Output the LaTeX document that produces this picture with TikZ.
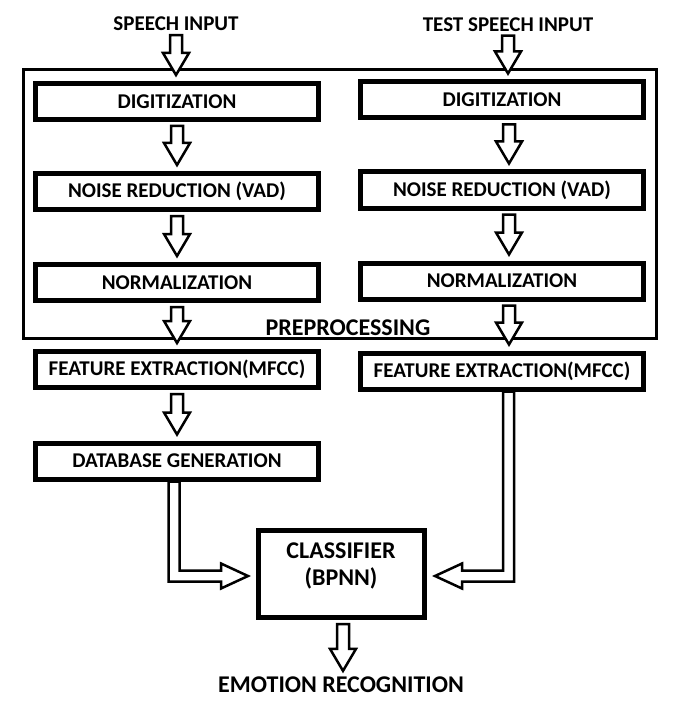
\documentclass[tikz,border=0pt]{standalone}
\usepackage{fontspec}
\setmainfont{Carlito}
\usetikzlibrary{calc}

% hollow block arrow going down from #1 to #2
\newcommand{\hollowdown}[2]{%
  \draw[hollow] let \p1=(#1), \p2=(#2) in
    (\x1-6pt,\y1-4pt) -- (\x1+6pt,\y1-4pt) -- (\x1+6pt,\y2+28pt) -- (\x1+13pt,\y2+28pt)
    -- (\x1,\y2+6pt) -- (\x1-13pt,\y2+28pt) -- (\x1-6pt,\y2+28pt) -- cycle;}

\begin{document}
\begin{tikzpicture}[x=1pt,y=-1pt,
    box/.style={draw, line width=5pt, minimum width=283pt, minimum height=36pt,
      inner sep=0pt, font=\bfseries\fontsize{21}{25}\selectfont},
    lbl/.style={inner sep=0pt, font=\bfseries\fontsize{21}{25}\selectfont},
    hollow/.style={draw, fill=white, line width=2.5pt, line join=miter}]
    \useasboundingbox (0,0) rectangle (682,722);
    % preprocessing frame
    \draw[line width=3pt] (23.5,69.5) rectangle (656.5,338.5);
    \node[lbl, font=\bfseries\fontsize{24}{28}\selectfont] (pre) at (348,328) {PREPROCESSING};
    % training side
    \node[lbl] (in1) at (176,24) {SPEECH INPUT};
    \node[box] (d1) at (177,101.5) {DIGITIZATION};
    \node[box] (n1) at (177,191.5) {NOISE REDUCTION (VAD)};
    \node[box] (m1) at (177,282.5) {NORMALIZATION};
    \node[box] (f1) at (177,369.5) {FEATURE EXTRACTION(MFCC)};
    \node[box] (db) at (177,461) {DATABASE GENERATION};
    % test side
    \node[lbl] (in2) at (508,24.5) {TEST SPEECH INPUT};
    \node[box] (d2) at (502,100) {DIGITIZATION};
    \node[box] (n2) at (502,190) {NOISE REDUCTION (VAD)};
    \node[box] (m2) at (502,281) {NORMALIZATION};
    \node[box] (f2) at (502,371) {FEATURE EXTRACTION(MFCC)};
    % classifier and result
    \node[box, minimum width=166pt, minimum height=87pt] (cls) at (341.5,574) {};
    \node[lbl, align=center, font=\bfseries\fontsize{24}{27}\selectfont] (clstxt) at (341,566)
        {CLASSIFIER\\(BPNN)};
    \node[lbl, font=\bfseries\fontsize{24}{28}\selectfont] (out) at (341,685) {EMOTION RECOGNITION};
    % arrows, left column
    \hollowdown{in1.south}{d1.north}
    \hollowdown{d1.south}{n1.north}
    \hollowdown{n1.south}{m1.north}
    \hollowdown{m1.south}{f1.north}
    \hollowdown{f1.south}{db.north}
    % arrows, right column
    \hollowdown{in2.south}{d2.north}
    \hollowdown{[xshift=7pt]d2.south}{n2.north}
    \hollowdown{[xshift=7pt]n2.south}{m2.north}
    \hollowdown{[xshift=7pt]m2.south}{f2.north}
    % into the classifier
    \draw[hollow] let \p1=([xshift=-3pt]db.south), \p2=(cls.west) in
        (\x1-5.5pt,\y1) -- (\x1+5.5pt,\y1) -- (\x1+5.5pt,\y2+3.5pt) -- (\x2-35pt,\y2+3.5pt)
        -- (\x2-35pt,\y2+10.5pt) -- (\x2-8pt,\y2-2pt) -- (\x2-35pt,\y2-14.5pt)
        -- (\x2-35pt,\y2-7.5pt) -- (\x1-5.5pt,\y2-7.5pt) -- cycle;
    \draw[hollow] let \p1=([xshift=6.5pt]f2.south), \p2=(cls.east) in
        (\x1+5.5pt,\y1) -- (\x1-5.5pt,\y1) -- (\x1-5.5pt,\y2+3.5pt) -- (\x2+35pt,\y2+3.5pt)
        -- (\x2+35pt,\y2+10.5pt) -- (\x2+8pt,\y2-2pt) -- (\x2+35pt,\y2-14.5pt)
        -- (\x2+35pt,\y2-7.5pt) -- (\x1+5.5pt,\y2-7.5pt) -- cycle;
    \hollowdown{[xshift=1.5pt]cls.south}{out.north}
\end{tikzpicture}
\end{document}
